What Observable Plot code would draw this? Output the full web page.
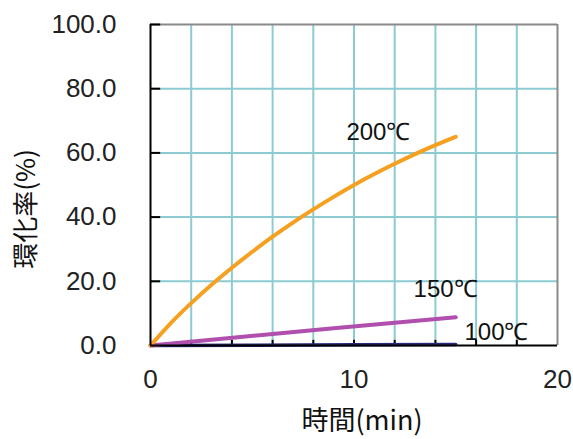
<!DOCTYPE html>
<html>
<head>
<meta charset="utf-8">
<script src="https://cdn.jsdelivr.net/npm/d3@7"></script>
<script src="https://cdn.jsdelivr.net/npm/@observablehq/plot@0.6"></script>
<style>
  html, body { margin: 0; padding: 0; background: #fff; }
  #chart svg { display: block; }
</style>
</head>
<body>
<div id="chart"></div>
<script>
// Time (min) and cyclization rate (%) for each temperature
const time200 = [0, 1, 2, 3, 4, 5, 6, 7, 8, 9, 10, 11, 12, 13, 14, 15];
const rate200 = [0, 7, 13.2, 18.9, 24.2, 29.2, 33.9, 38.3, 42.4, 46.3, 50, 53.4, 56.6, 59.6, 62.4, 65];
const time150 = [0, 3, 6, 9, 12, 15];
const rate150 = [0, 1.8, 3.6, 5.4, 7.1, 8.8];
const time100 = [0, 5, 10, 15];
const rate100 = [0, 0.1, 0.2, 0.3];

const seriesNames = ["200℃", "150℃", "100℃"];
const seriesColors = ["#f5a020", "#b04fae", "#2a2a78"];
const labelTime = [11.2, 14.5, 17.0];
const labelRate = [66.3, 17.4, 4.0];

const xTickLabels = [0, 10, 20];
const xGrid = [2, 4, 6, 8, 10, 12, 14, 16, 18];
const xTickMarks = [2, 4, 6, 8, 10, 12, 14, 16, 18];
const yTickLabels = [0, 20, 40, 60, 80, 100];
const yGrid = [20, 40, 60, 80];

const toRows = (ts, vs, name) => ts.map((t, i) => ({t, v: vs[i], name}));
const rows200 = toRows(time200, rate200, seriesNames[0]);
const rows150 = toRows(time150, rate150, seriesNames[1]);
const rows100 = toRows(time100, rate100, seriesNames[2]);
const labels = seriesNames.map((name, i) => ({name, t: labelTime[i], v: labelRate[i]}));

const font = "'Liberation Sans', Arial, sans-serif";
const cjk = "'Noto Sans CJK JP', sans-serif";

const chart = Plot.plot({
  width: 573,
  height: 439,
  marginLeft: 150,
  marginRight: 16,
  marginTop: 24,
  marginBottom: 94,
  style: {fontFamily: font, background: "#fff"},
  x: {domain: [0, 20]},
  y: {domain: [0, 100]},
  marks: [
    Plot.ruleX(xGrid, {stroke: "#8ccbd2", strokeWidth: 2}),
    Plot.ruleY(yGrid, {stroke: "#8ccbd2", strokeWidth: 2}),
    Plot.ruleY([100], {stroke: "#8a8a8a", strokeWidth: 2}),
    Plot.ruleX([20], {stroke: "#8a8a8a", strokeWidth: 2}),
    // inward tick marks
    Plot.ruleY(yTickLabels, {x1: 0, x2: 0.5, stroke: "#000", strokeWidth: 2}),
    Plot.ruleX(xTickMarks, {y1: 0, y2: 1.6, stroke: "#000", strokeWidth: 2}),
    Plot.axisY(yTickLabels, {tickSize: 0, tickPadding: 34, fontSize: 26, tickFormat: d => d.toFixed(1), label: null, fill: "#222"}),
    Plot.axisX(xTickLabels, {tickSize: 0, tickPadding: 24, fontSize: 26, label: null, fill: "#222"}),
    Plot.line(rows100, {x: "t", y: "v", stroke: seriesColors[2], strokeWidth: 3.5}),
    Plot.line(rows150, {x: "t", y: "v", stroke: seriesColors[1], strokeWidth: 4}),
    Plot.line(rows200, {x: "t", y: "v", stroke: seriesColors[0], strokeWidth: 4, curve: "natural"}),
    Plot.ruleX([0], {stroke: "#000", strokeWidth: 2}),
    Plot.ruleY([0], {stroke: "#000", strokeWidth: 2}),
    Plot.text(labels, {x: "t", y: "v", text: "name", fontSize: 24, fill: "#111"}),
    Plot.text(["時間(min)"], {frameAnchor: "bottom", textAnchor: "middle", lineAnchor: "middle", dx: 8, dy: 76, fontSize: 27, fontFamily: cjk, fill: "#111"}),
    Plot.text(["環化率(%)"], {frameAnchor: "left", textAnchor: "middle", lineAnchor: "middle", dx: -124, dy: 24, rotate: -90, fontSize: 26, fontFamily: cjk, fill: "#111"})
  ]
});
document.getElementById("chart").appendChild(chart);
</script>
</body>
</html>
